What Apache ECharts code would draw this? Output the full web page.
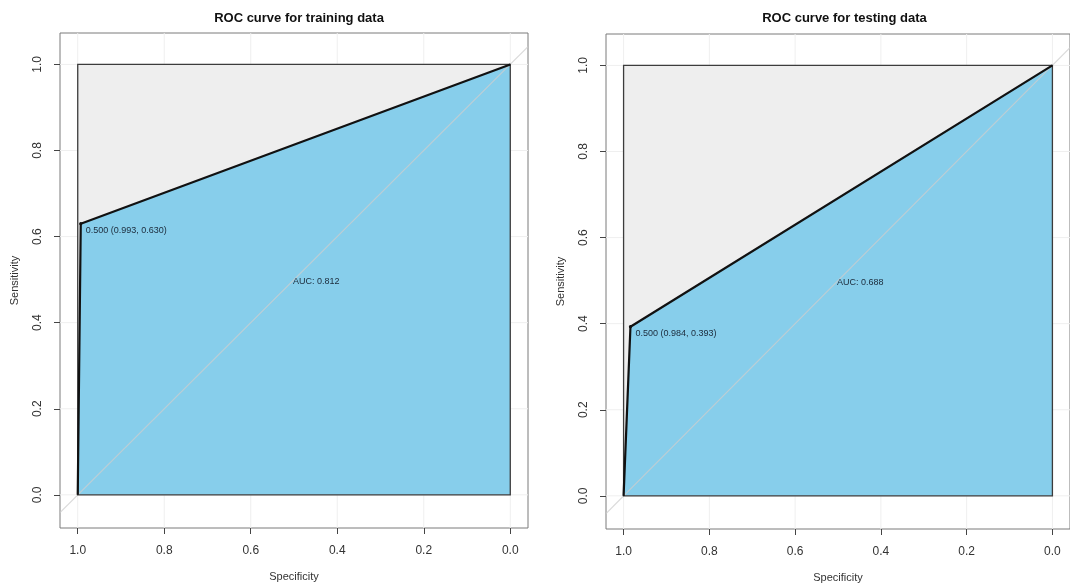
<!DOCTYPE html>
<html><head><meta charset="utf-8">
<script src="https://cdn.jsdelivr.net/npm/echarts@6/dist/echarts.min.js"></script>
<style>html,body{margin:0;padding:0;background:#fff}#c{width:1070px;height:588px}</style>
</head><body><div id="c"></div>
<script>
// ---- data ----
const panelTitles = ['ROC curve for training data', 'ROC curve for testing data'];
const trainSpec = [1, 0.993, 0];
const trainSens = [0, 0.630, 1];
const testSpec = [1, 0.984, 0];
const testSens = [0, 0.393, 1];
const trainAUC = 0.812;
const testAUC = 0.688;
const threshold = 0.500;
const thresholdSpec = [0.993, 0.984];
const thresholdSens = [0.630, 0.393];
const tickValues = [0, 0.2, 0.4, 0.6, 0.8, 1.0];

const specs = [trainSpec, testSpec];
const senss = [trainSens, testSens];
const aucs = [trainAUC, testAUC];

const FONT = '"Liberation Sans", Arial, sans-serif';
const XMIN = -0.041, XMAX = 1.041, YMIN = -0.077, YMAX = 1.073;

const grids = [
  {left: 60, top: 33, width: 468, height: 495},
  {left: 606, top: 34, width: 467, height: 495}
];

const xAxes = [], yAxes = [], series = [], titles = [];
grids.forEach((g, i) => {
  g.show = true; g.borderColor = '#7a7a7a'; g.borderWidth = 1; g.backgroundColor = '#fff';
  titles.push({text: panelTitles[i], left: g.left + g.width / 2, top: 7, textAlign: 'center',
    textStyle: {fontFamily: FONT, fontSize: 13, fontWeight: 'bold', color: '#111'}});
  xAxes.push({type: 'value', gridIndex: i, inverse: true, min: XMIN, max: XMAX, position: 'bottom',
    name: 'Specificity', nameLocation: 'middle', nameGap: 43,
    nameTextStyle: {fontFamily: FONT, fontSize: 11, color: '#333'},
    axisLine: {show: false, onZero: false},
    axisTick: {show: true, customValues: tickValues, length: 6, lineStyle: {color: '#444'}},
    axisLabel: {customValues: tickValues, margin: 17, fontFamily: FONT, fontSize: 12, color: '#333',
      formatter: v => v.toFixed(1)},
    splitLine: {show: false}});
  yAxes.push({type: 'value', gridIndex: i, min: YMIN, max: YMAX, position: 'left',
    name: 'Sensitivity', nameLocation: 'middle', nameGap: 40,
    nameTextStyle: {fontFamily: FONT, fontSize: 11, color: '#333'},
    axisLine: {show: false, onZero: false},
    axisTick: {show: true, customValues: tickValues, length: 6, lineStyle: {color: '#444'}},
    axisLabel: {customValues: tickValues, rotate: 90, margin: 16, fontFamily: FONT, fontSize: 12, color: '#333',
      formatter: v => v.toFixed(1)},
    splitLine: {show: false}});

  const sp = specs[i], se = senss[i];
  const base = {type: 'custom', xAxisIndex: i, yAxisIndex: i, data: [0], silent: true, animation: false};
  // faint grid lines
  series.push(Object.assign({}, base, {z: 1, clip: true, renderItem: (p, api) => {
    const ch = [];
    tickValues.forEach(t => {
      const a = api.coord([t, YMIN]), b = api.coord([t, YMAX]);
      ch.push({type: 'line', shape: {x1: a[0], y1: a[1], x2: b[0], y2: b[1]}, style: {stroke: '#efefef', lineWidth: 1}});
      const c = api.coord([XMIN, t]), d = api.coord([XMAX, t]);
      ch.push({type: 'line', shape: {x1: c[0], y1: c[1], x2: d[0], y2: d[1]}, style: {stroke: '#efefef', lineWidth: 1}});
    });
    return {type: 'group', children: ch};
  }}));
  // max AUC square (gray)
  series.push(Object.assign({}, base, {z: 2, renderItem: (p, api) => ({
    type: 'polygon', shape: {points: [[1, 0], [1, 1], [0, 1], [0, 0]].map(q => api.coord(q))},
    style: {fill: '#eeeeee', stroke: 'none'}})}));
  // AUC polygon (blue)
  series.push(Object.assign({}, base, {z: 3, renderItem: (p, api) => {
    const pts = sp.map((s, k) => api.coord([s, se[k]]));
    pts.push(api.coord([0, 0]));
    return {type: 'polygon', shape: {points: pts}, style: {fill: '#87ceeb', stroke: 'none'}};
  }}));
  // diagonal
  series.push(Object.assign({}, base, {z: 4, clip: true, renderItem: (p, api) => {
    const a = api.coord([XMAX, 1 - XMAX]), b = api.coord([XMIN, 1 - XMIN]);
    return {type: 'line', shape: {x1: a[0], y1: a[1], x2: b[0], y2: b[1]},
      style: {stroke: 'rgba(205,205,205,0.75)', lineWidth: 1.2}};
  }}));
  // square border
  series.push(Object.assign({}, base, {z: 5, renderItem: (p, api) => ({
    type: 'polygon', shape: {points: [[1, 0], [1, 1], [0, 1], [0, 0]].map(q => api.coord(q))},
    style: {fill: 'none', stroke: '#3c3c3c', lineWidth: 1.3}})}));
  // ROC curve
  series.push({type: 'line', xAxisIndex: i, yAxisIndex: i, z: 6, silent: true, animation: false,
    data: sp.map((s, k) => [s, se[k]]), showSymbol: false, symbol: 'none',
    lineStyle: {color: '#111', width: 2.2}});
  // threshold point + label
  series.push(Object.assign({}, base, {z: 7, renderItem: (p, api) => {
    const c = api.coord([thresholdSpec[i], thresholdSens[i]]);
    return {type: 'group', children: [
      {type: 'circle', shape: {cx: c[0], cy: c[1], r: 1.6}, style: {fill: '#111'}},
      {type: 'text', x: c[0] + 5, y: c[1] + 7, style: {
        text: threshold.toFixed(3) + ' (' + thresholdSpec[i].toFixed(3) + ', ' + thresholdSens[i].toFixed(3) + ')',
        fontFamily: FONT, fontSize: 9, fill: '#1b2a3a', align: 'left', verticalAlign: 'middle'}}]};
  }}));
  // AUC text
  series.push(Object.assign({}, base, {z: 7, renderItem: (p, api) => {
    const c = api.coord([0.5, 0.5]);
    return {type: 'text', x: c[0] - 1, y: c[1] + 2, style: {
      text: 'AUC: ' + aucs[i].toFixed(3), fontFamily: FONT, fontSize: 9, fill: '#1b2a3a',
      align: 'left', verticalAlign: 'middle'}};
  }}));
});

const chart = echarts.init(document.getElementById('c'), null, {renderer: 'canvas'});
chart.setOption({
  animation: false, backgroundColor: '#fff',
  title: titles, grid: grids, xAxis: xAxes, yAxis: yAxes, series: series
});
</script></body></html>
